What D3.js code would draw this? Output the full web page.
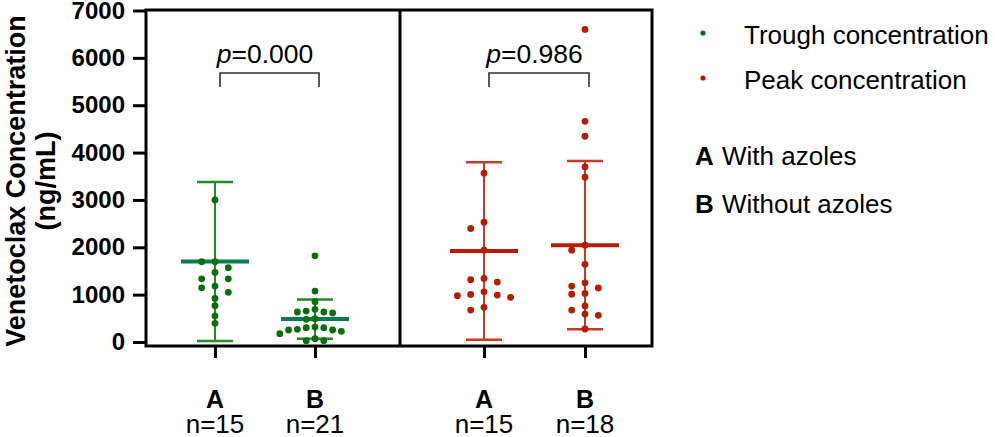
<!DOCTYPE html>
<html><head><meta charset="utf-8">
<script src="https://cdn.jsdelivr.net/npm/d3@7"></script>
<style>
body{margin:0;background:#fff}
svg{display:block}
text{font-family:"Liberation Sans",Arial,Helvetica,sans-serif;fill:#000}
</style>
</head><body>
<svg id="c" width="995" height="437"></svg>
<script>
// ---------------- data ----------------
const categories = ["A", "B"];
const seriesNames = ["Trough concentration", "Peak concentration"];
const nLabels = [["n=15", "n=21"], ["n=15", "n=18"]];
const troughA = [3000, 1695, 1695, 1570, 1470, 1335, 1335, 1180, 1145, 1050, 920, 765, 550, 395];
const troughB = [1820, 1075, 850, 690, 654, 633, 633, 612, 492, 479, 316, 302, 302, 268, 253, 253, 225, 175, 70, 27, 27];
const peakA = [3565, 2530, 2397, 1940, 1343, 1315, 1265, 1060, 1005, 990, 977, 943, 732, 675];
const peakB = [6600, 4660, 4345, 3700, 3480, 2045, 1940, 1640, 1250, 1180, 1140, 1025, 1010, 760, 675, 590, 563, 274];
const troughMeans = [1700, 485];
const troughSD = [1680, 415];
const peakMeans = [1920, 2045];
const peakSD = [1875, 1775];
const pValues = ["0.000", "0.986"];
const yTicks = [0, 1000, 2000, 3000, 4000, 5000, 6000, 7000];
const groupLegend = [["A", "With azoles"], ["B", "Without azoles"]];

// ---------------- layout / style ----------------
const svg = d3.select("#c");
const frame = {left: 146, right: 652, mid: 400, top: 10, bottom: 346};
const y = d3.scaleLinear().domain([0, 7000]).range([342, 10.5]);
const xRanges = [[215, 315], [484, 585]];
const colors = [
  {dot: "#0b6e0b", bar: "#2a882a", mean: "#0a7a55"},
  {dot: "#b51c00", bar: "#c83a28", mean: "#b81c00"}
];
const spacing = [[13.3, 8.8], [13.3, 13.3]];
const R = 3.4;

const panels = [
  {values: [troughA, troughB], means: troughMeans, sd: troughSD},
  {values: [peakA, peakB], means: peakMeans, sd: peakSD}
];

// beeswarm placement (greedy column grid)
function swarm(vals, cx, step) {
  const placed = [];
  const sorted = vals.map(v => ({v, py: y(v)})).sort((a, b) => a.py - b.py);
  sorted.forEach(p => {
    for (let k = 0; k < 20; k++) {
      const off = k === 0 ? 0 : (k % 2 ? -Math.ceil(k / 2) : Math.ceil(k / 2));
      const px = cx + off * step;
      const hit = placed.some(q => Math.abs(q.px - px) < 1 && Math.abs(q.py - p.py) < 2 * R + 0.2);
      if (!hit) { p.px = px; placed.push(p); break; }
    }
  });
  return placed;
}

// y axis
const yAxis = d3.axisLeft(y).tickValues(yTicks).tickSize(13).tickPadding(8).tickFormat(d3.format("d"));
const gy = svg.append("g").attr("transform", `translate(${frame.left},0)`).call(yAxis);
gy.select(".domain").remove();
gy.selectAll(".tick line").attr("stroke", "#000").attr("stroke-width", 3);
gy.selectAll(".tick text").attr("font-size", 24).attr("font-weight", "bold")
  .attr("font-family", '"Liberation Sans",Arial,sans-serif').attr("fill", "#000");

// y title
const yt = svg.append("g").attr("transform", "translate(0,181) rotate(-90)");
yt.append("text").attr("x", 0).attr("y", 25).attr("text-anchor", "middle")
  .attr("font-size", 27).attr("font-weight", "bold").text("Venetoclax Concentration");
yt.append("text").attr("x", 0).attr("y", 55).attr("text-anchor", "middle")
  .attr("font-size", 27).attr("font-weight", "bold").text("(ng/mL)");

panels.forEach((pn, pi) => {
  const x = d3.scalePoint().domain(categories).range(xRanges[pi]);
  const col = colors[pi];
  // x axis ticks + labels
  const xAxis = d3.axisBottom(x).tickSize(12).tickFormat("");
  const gx = svg.append("g").attr("transform", `translate(0,${frame.bottom})`).call(xAxis);
  gx.select(".domain").remove();
  gx.selectAll(".tick text").remove();
  gx.selectAll(".tick line").attr("stroke", "#000").attr("stroke-width", 3);
  categories.forEach((c, ci) => {
    svg.append("text").attr("x", x(c)).attr("y", 408).attr("text-anchor", "middle")
      .attr("font-size", 25).attr("font-weight", "bold").text(c);
    svg.append("text").attr("x", x(c)).attr("y", 433).attr("text-anchor", "middle")
      .attr("font-size", 26).text(nLabels[pi][ci]);
  });

  categories.forEach((c, ci) => {
    const cx = x(c);
    const m = pn.means[ci], s = pn.sd[ci];
    const g = svg.append("g");
    g.append("line").attr("x1", cx).attr("x2", cx).attr("y1", y(m - s)).attr("y2", y(m + s))
      .attr("stroke", col.bar).attr("stroke-width", 2);
    [m - s, m + s].forEach(v => {
      g.append("line").attr("x1", cx - 18).attr("x2", cx + 18).attr("y1", y(v)).attr("y2", y(v))
        .attr("stroke", col.bar).attr("stroke-width", 2.5);
    });
    g.append("line").attr("x1", cx - 34).attr("x2", cx + 34).attr("y1", y(m)).attr("y2", y(m))
      .attr("stroke", col.mean).attr("stroke-width", 4);
    const pts = swarm(pn.values[ci], cx, spacing[pi][ci]);
    g.selectAll("circle").data(pts).join("circle")
      .attr("cx", d => d.px).attr("cy", d => d.py).attr("r", R).attr("fill", col.dot);
  });

  // p-value bracket
  const xa = x(categories[0]) + 5, xb = x(categories[1]) + 4;
  svg.append("path").attr("d", `M${xa},87V73H${xb}V87`).attr("fill", "none")
    .attr("stroke", "#333").attr("stroke-width", 1.6);
  const pt = svg.append("text").attr("x", (x(categories[0]) + x(categories[1])) / 2).attr("y", 63)
    .attr("text-anchor", "middle").attr("font-size", 26.5);
  pt.append("tspan").attr("font-style", "italic").text("p");
  pt.append("tspan").text("=" + pValues[pi]);
});

// frame
svg.append("rect").attr("x", frame.left).attr("y", frame.top)
  .attr("width", frame.right - frame.left).attr("height", frame.bottom - frame.top)
  .attr("fill", "none").attr("stroke", "#000").attr("stroke-width", 3);
svg.append("line").attr("x1", frame.mid).attr("x2", frame.mid).attr("y1", frame.top).attr("y2", frame.bottom)
  .attr("stroke", "#000").attr("stroke-width", 3);

// legend
seriesNames.forEach((s, i) => {
  const ly = 33 + i * 45;
  svg.append("circle").attr("cx", 703).attr("cy", ly).attr("r", 2.6).attr("fill", colors[i].dot);
  svg.append("text").attr("x", 744).attr("y", ly + 10.5).attr("font-size", 26).text(s);
});
groupLegend.forEach((gl, i) => {
  const t = svg.append("text").attr("x", 695).attr("y", 165 + i * 48).attr("font-size", 26);
  t.append("tspan").attr("font-weight", "bold").text(gl[0]);
  t.append("tspan").attr("dx", 1).text(" " + gl[1]);
});
</script>
</body></html>
